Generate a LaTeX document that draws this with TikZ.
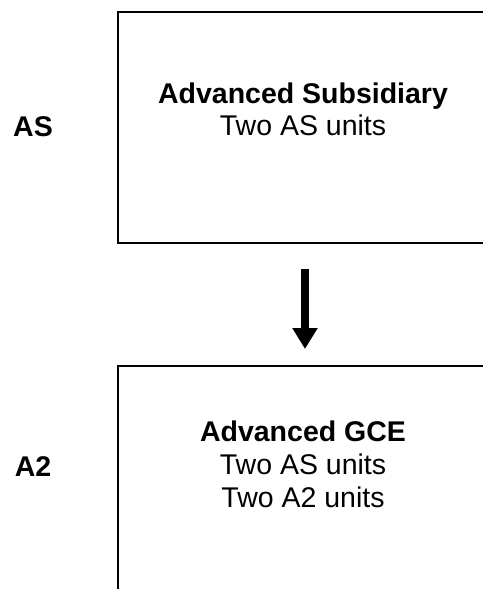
\documentclass[tikz,border=0pt]{standalone}
\usepackage{fontspec}
\setmainfont{Liberation Sans}
\usetikzlibrary{arrows.meta}
\begin{document}
\begin{tikzpicture}[x=1pt,y=1pt,
  stagebox/.style={draw=black,line width=2pt,minimum width=370pt,inner sep=0pt},
  txt/.style={font=\fontsize{28.5}{33}\selectfont,anchor=base,inner sep=0pt},
  btxt/.style={txt,font=\fontsize{28.5}{33}\selectfont\bfseries},
  flow/.style={line width=8pt,-{Triangle[width=24pt,length=21pt]}}]
\useasboundingbox (0,0) rectangle (482,-589);
\node[stagebox,minimum height=231pt] (as) at (303,-127.5) {};
\node[stagebox,minimum height=240pt] (a2) at (303,-486) {};
\node[btxt] (t1) at (303,-103) {Advanced Subsidiary};
\node[txt] (t2) at (303,-135) {Two AS units};
\node[btxt] (t3) at (303,-441) {Advanced GCE};
\node[txt] (t4) at (303,-474) {Two AS units};
\node[txt] (t5) at (303,-507) {Two A2 units};
\node[btxt] (las) at (33,-136) {AS};
\node[btxt] (la2) at (33,-476) {A2};
\draw[flow,shorten <=25pt,shorten >=16pt] ([xshift=2pt]as.south) -- ([xshift=2pt]a2.north);
\end{tikzpicture}
\end{document}
